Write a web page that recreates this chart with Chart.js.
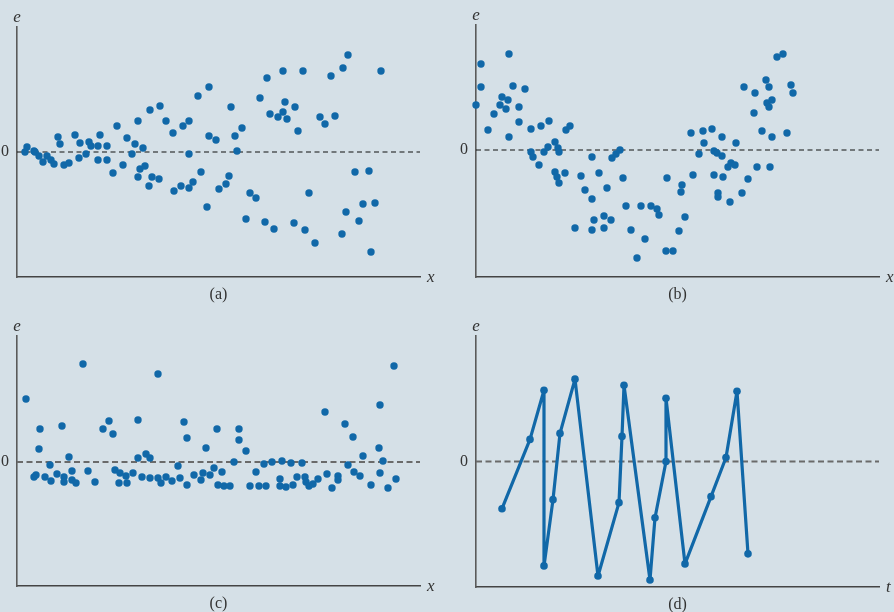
<!DOCTYPE html>
<html>
<head>
<meta charset="utf-8">
<script src="https://cdn.jsdelivr.net/npm/chart.js@4.4.1/dist/chart.umd.min.js"></script>
<style>
  html, body { margin: 0; padding: 0; background: #d5e0e7; }
  #wrap { position: relative; width: 894px; height: 612px; background: #d5e0e7; }
  .panel { position: absolute; width: 447px; height: 306px; }
</style>
</head>
<body>
<div id="wrap">
  <div class="panel" style="left:0;top:0"><canvas id="chart-a" width="447" height="306"></canvas></div>
  <div class="panel" style="left:447px;top:0"><canvas id="chart-b" width="447" height="306"></canvas></div>
  <div class="panel" style="left:0;top:306px"><canvas id="chart-c" width="447" height="306"></canvas></div>
  <div class="panel" style="left:447px;top:306px"><canvas id="chart-d" width="447" height="306"></canvas></div>
</div>
<script>
// residuals: x (or t) along the axis, e above/below zero
const aX = [8,10,17,18,22,26,30,34,37,41,43,47,52,58,62,63,69,72,74,81,81,83,90,90,96,100,106,110,115,118,121,121,123,126,128,132,133,135,142,143,149,156,157,164,166,172,172,172,176,181,184,190,192,192,199,202,209,212,214,218,220,225,229,233,239,243,248,250,253,257,261,266,266,268,270,277,278,281,286,288,292,298,303,308,314,318,325,326,329,331,338,342,346,352,354,358,364];
const aE = [0,5,1,0,-4,-10,-4,-8,-12,15,8,-13,-11,17,-6,9,-2,10,6,6,-8,17,6,-8,-21,26,-13,14,-2,8,31,-25,-17,4,-14,-34,42,-25,-27,46,31,19,-39,-34,26,31,-2,-36,-30,56,-20,-55,65,16,12,-37,-32,-24,45,16,1,24,-67,-41,-46,54,-70,74,38,-77,35,81,40,50,33,-71,45,21,81,-78,-41,-91,35,28,76,36,-82,84,-60,97,-20,-69,-52,-19,-100,-51,81];

const bX = [0,5,5,12,18,24,26,30,32,33,33,37,43,43,49,55,55,57,63,65,68,72,73,79,79,81,82,83,83,89,90,94,99,105,109,116,116,116,118,123,128,128,131,135,136,140,144,147,150,155,161,165,169,175,181,183,191,190,197,203,205,206,209,215,217,223,227,228,236,238,238,241,242,242,246,246,247,252,254,255,259,260,266,268,272,278,279,281,286,290,291,293,293,296,294,296,301,307,311,315,317];
const bE = [45,86,63,20,36,45,53,41,50,96,13,64,43,28,61,21,-2,-7,-15,24,-2,3,29,8,-22,-27,2,-2,-33,-23,20,24,-78,-26,-40,-7,-49,-80,-70,-23,-66,-78,-38,-70,-8,-4,0,-28,-56,-80,-108,-56,-89,-56,-59,-65,-28,-101,-101,-81,-42,-35,-67,17,-25,-4,19,7,21,-25,-1,-3,-43,-47,13,-6,-27,-17,-52,-13,-15,7,-43,63,-29,37,57,-17,19,70,47,43,63,50,-17,13,93,96,17,65,57];

const cX = [9,17,19,22,23,28,33,34,40,45,47,47,52,55,55,59,66,71,78,86,92,96,98,102,103,109,110,116,121,121,125,129,133,133,141,141,144,149,155,161,163,167,170,170,177,184,186,189,193,197,200,201,205,207,213,217,222,222,229,233,239,242,247,249,255,263,263,265,269,274,276,280,285,288,289,292,296,301,308,310,315,321,321,328,331,336,337,343,346,354,362,363,363,366,371,377,379];
const cE = [63,-15,-13,13,33,-15,-3,-19,-12,36,-15,-20,5,-18,-9,-21,98,-9,-20,33,41,28,-8,-21,-11,-14,-21,-11,42,4,-15,8,4,-16,88,-16,-21,-15,-19,-4,-16,40,24,-23,-13,-18,-11,14,-13,-6,33,-23,-10,-24,-24,0,33,22,11,-24,-10,-24,-2,-24,0,-17,-24,1,-25,-1,-23,-15,-1,-15,-20,-24,-22,-17,50,-12,-26,-14,-18,38,-3,25,-10,-14,6,-23,14,57,-11,1,-26,96,-17];

const dT = [26,54,68,68,77,84,99,122,143,146,148,174,179,190,190,209,235,250,261,272];
const dE = [-47,22,71,-104,-38,28,82,-114,-41,25,76,-118,-56,0,63,-102,-35,4,70,-92];

const ZERO_TICKS = [0];
const X_RANGE = [0, 403];
const CAPTIONS = ["(a)", "(b)", "(c)", "(d)"];
const AXIS_NAMES = ["x", "x", "x", "t"];

const DOT = "#1168a8";
const SERIF = "'Liberation Serif', 'DejaVu Serif', serif";

function toPoints(xs, ys) {
  return xs.map((x, i) => ({ x: x, y: ys[i] }));
}

const panelText = {
  id: "panelText",
  afterDraw(chart, args, opts) {
    const { ctx, chartArea: a } = chart;
    ctx.save();
    ctx.fillStyle = "#333";
    ctx.font = "italic 17px " + SERIF;
    ctx.textBaseline = "alphabetic";
    ctx.textAlign = "center";
    ctx.fillText("e", a.left, a.top - 5);
    ctx.textAlign = "left";
    ctx.fillText(opts.axis, a.right + 7, a.bottom + 5);
    ctx.font = "16px " + SERIF;
    ctx.textAlign = "center";
    ctx.fillText(opts.caption, (a.left + a.right) / 2, a.bottom + 22);
    ctx.restore();
  }
};

function makePanel(id, points, cfg) {
  const zero = [{ x: X_RANGE[0], y: 0 }, { x: X_RANGE[1], y: 0 }];
  return new Chart(document.getElementById(id), {
    type: "scatter",
    data: {
      datasets: [
        {
          data: points,
          showLine: !!cfg.line,
          borderColor: DOT,
          backgroundColor: DOT,
          borderWidth: cfg.line ? 3.2 : 0,
          borderJoinStyle: "round",
          borderCapStyle: "round",
          pointRadius: cfg.line ? 3.8 : 3.7,
          pointBorderWidth: 0,
          tension: 0,
          clip: false,
          order: 0
        },
        {
          type: "line",
          data: zero,
          borderColor: cfg.dashColor,
          borderWidth: cfg.dashWidth,
          borderDash: cfg.dash,
          pointRadius: 0,
          fill: false,
          order: 1
        }
      ]
    },
    options: {
      responsive: false,
      animation: false,
      layout: { padding: cfg.pad },
      plugins: {
        legend: { display: false },
        tooltip: { enabled: false },
        panelText: { axis: cfg.axis, caption: cfg.caption }
      },
      scales: {
        x: {
          type: "linear",
          min: X_RANGE[0],
          max: X_RANGE[1],
          grid: { display: false, drawTicks: false },
          ticks: { display: false },
          border: { display: true, color: "#444", width: 1.6 },
          afterFit(scale) { scale.height = 0; }
        },
        y: {
          type: "linear",
          min: cfg.y[0],
          max: cfg.y[1],
          grid: { display: false, drawTicks: false },
          border: { display: true, color: "#5a5a5a", width: 1.6 },
          afterBuildTicks(scale) { scale.ticks = ZERO_TICKS.map(v => ({ value: v })); },
          ticks: {
            padding: 8,
            color: "#333",
            font: { family: SERIF, size: 16 },
            callback: (v) => String(v)
          },
          afterFit(scale) { scale.width = 17; }
        }
      }
    },
    plugins: [panelText]
  });
}

makePanel("chart-a", toPoints(aX, aE), {
  pad: { left: 0, top: 27, right: 27, bottom: 29 }, y: [-125, 125],
  dash: [5, 3.5], dashColor: "#111", dashWidth: 1.1,
  axis: AXIS_NAMES[0], caption: CAPTIONS[0]
});
makePanel("chart-b", toPoints(bX, bE), {
  pad: { left: 12, top: 25, right: 15, bottom: 29 }, y: [-127, 125],
  dash: [5, 3.5], dashColor: "#111", dashWidth: 1.1,
  axis: AXIS_NAMES[1], caption: CAPTIONS[1]
});
makePanel("chart-c", toPoints(cX, cE), {
  pad: { left: 0, top: 30, right: 27, bottom: 26 }, y: [-124, 126],
  dash: [6, 3.5], dashColor: "#6a6a6a", dashWidth: 2,
  axis: AXIS_NAMES[2], caption: CAPTIONS[2]
});
makePanel("chart-d", toPoints(dT, dE), {
  pad: { left: 12, top: 30, right: 15, bottom: 25 }, y: [-125, 125],
  dash: [6, 3.5], dashColor: "#6a6a6a", dashWidth: 2, line: true,
  axis: AXIS_NAMES[3], caption: CAPTIONS[3]
});
</script>
</body>
</html>
